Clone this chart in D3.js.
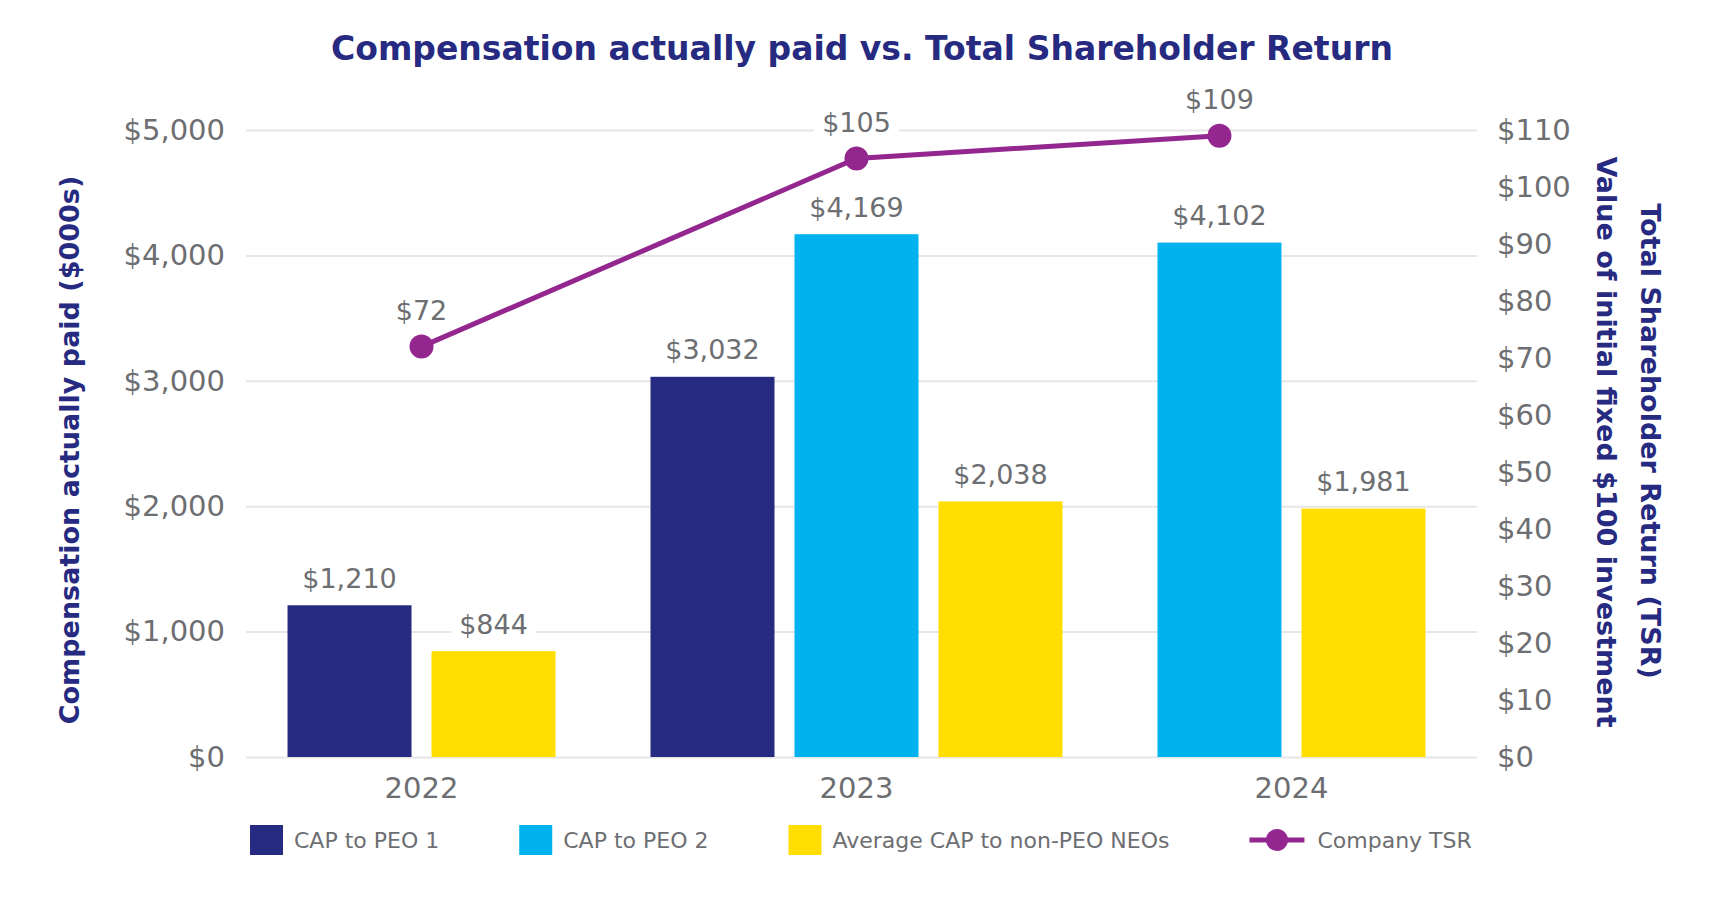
<!DOCTYPE html>
<html>
<head>
<meta charset="utf-8">
<script src="https://cdn.jsdelivr.net/npm/d3@7"></script>
<style>
  body { margin: 0; background: #fff; }
  text { font-family: "DejaVu Sans", Verdana, sans-serif; }
</style>
</head>
<body>
<div id="chart"></div>
<script>
// data
const years = ["2022", "2023", "2024"];
const capPeo1 = [1210, 3032, null];
const capPeo2 = [null, 4169, 4102];
const capNeo = [844, 2038, 1981];
const tsr = [72, 105, 109];
const leftTicks = [0, 1000, 2000, 3000, 4000, 5000];
const rightTicks = [0, 10, 20, 30, 40, 50, 60, 70, 80, 90, 100, 110];
const seriesNames = ["CAP to PEO 1", "CAP to PEO 2", "Average CAP to non-PEO NEOs"];
const seriesColors = ["#262a80", "#00b3ef", "#ffde00"];
const tsrName = "Company TSR";
const tsrColor = "#93278f";

const W = 1725, H = 900;
const plot = {left: 246, right: 1477, top: 130, bottom: 757};

const svg = d3.select("#chart").append("svg")
    .attr("width", W)
    .attr("height", H);

const y = d3.scaleLinear().domain([0, 5000]).range([plot.bottom, plot.top]);
const yR = d3.scaleLinear().domain([0, 110]).range([plot.bottom, plot.top]);
const x = d3.scalePoint().domain(years).range([plot.left - 5, plot.right - 5]).padding(0.415);

const fmt = d3.format(",");
const money = v => "$" + fmt(v);

// title
svg.append("text")
    .attr("x", 862).attr("y", 60)
    .attr("text-anchor", "middle")
    .attr("fill", "#262a80")
    .style("font-weight", "bold")
    .style("font-size", "33px")
    .text("Compensation actually paid vs. Total Shareholder Return");

// gridlines + left axis
const gLeft = svg.append("g").attr("transform", "translate(" + plot.left + ",0)")
    .call(d3.axisLeft(y).tickValues(leftTicks).tickFormat(money)
        .tickSize(-(plot.right - plot.left)).tickPadding(21));
gLeft.select(".domain").remove();
gLeft.selectAll(".tick line").attr("stroke", "#e6e6e6").attr("stroke-width", 2);
gLeft.selectAll(".tick text").attr("fill", "#6d6e71").style("font-size", "29px")
    .style("font-family", "'DejaVu Sans', Verdana, sans-serif");

// right axis (labels only)
const gRight = svg.append("g").attr("transform", "translate(" + plot.right + ",0)")
    .call(d3.axisRight(yR).tickValues(rightTicks).tickFormat(d => "$" + d)
        .tickSize(0).tickPadding(20));
gRight.select(".domain").remove();
gRight.selectAll(".tick text").attr("fill", "#6d6e71").style("font-size", "29px")
    .style("font-family", "'DejaVu Sans', Verdana, sans-serif");

// year labels
svg.selectAll(".year")
    .data(years)
    .enter()
    .append("text")
    .attr("class", "year")
    .attr("x", d => x(d))
    .attr("y", 798)
    .attr("text-anchor", "middle")
    .attr("fill", "#6d6e71")
    .style("font-size", "29px")
    .text(d => d);

// bars: each year only shows the series it has, centred on the year
const allSeries = [capPeo1, capPeo2, capNeo];
const bars = [];
const lineX = [];
years.forEach(function(yr, i) {
    const present = [0, 1, 2].filter(s => allSeries[s][i] != null);
    const step = 144, inner = 20;
    const w = present.length * step - inner;
    const inX = d3.scaleBand().domain(present)
        .range([x(yr) - w / 2, x(yr) + w / 2])
        .paddingInner(inner / step).paddingOuter(0);
    present.forEach(function(s) {
        bars.push({s: s, x: inX(s), w: inX.bandwidth(), v: allSeries[s][i]});
    });
    lineX.push(present.indexOf(1) >= 0 ? inX(1) + inX.bandwidth() / 2 : x(yr));
});

svg.selectAll(".bar")
    .data(bars)
    .enter()
    .append("rect")
    .attr("class", "bar")
    .attr("x", d => d.x)
    .attr("y", d => y(d.v))
    .attr("width", d => d.w)
    .attr("height", d => y(0) - y(d.v))
    .attr("fill", d => seriesColors[d.s]);

// label helper with white box behind
function label(px, py, txt) {
    const g = svg.append("g");
    const t = g.append("text")
        .attr("x", px).attr("y", py)
        .attr("text-anchor", "middle")
        .attr("dominant-baseline", "central")
        .attr("fill", "#6d6e71")
        .style("font-size", "27px")
        .text(txt);
    const b = t.node().getBBox();
    g.insert("rect", "text")
        .attr("x", b.x - 8).attr("y", b.y - 2)
        .attr("width", b.width + 16).attr("height", b.height + 4)
        .attr("fill", "#fff");
}

bars.forEach(d => label(d.x + d.w / 2, y(d.v) - 27, money(d.v)));

// TSR line
const line = d3.line().x((d, i) => lineX[i]).y(d => yR(d));
svg.append("path")
    .datum(tsr)
    .attr("d", line)
    .attr("fill", "none")
    .attr("stroke", tsrColor)
    .attr("stroke-width", 5);

svg.selectAll(".dot")
    .data(tsr)
    .enter()
    .append("circle")
    .attr("cx", (d, i) => lineX[i])
    .attr("cy", d => yR(d))
    .attr("r", 12)
    .attr("fill", tsrColor);

tsr.forEach((d, i) => label(lineX[i], yR(d) - 36, "$" + d));

// axis titles
svg.append("text")
    .attr("transform", "translate(69,450) rotate(-90)")
    .attr("text-anchor", "middle")
    .attr("dominant-baseline", "central")
    .attr("fill", "#262a80")
    .style("font-weight", "bold")
    .style("font-size", "27px")
    .text("Compensation actually paid ($000s)");

svg.append("text")
    .attr("transform", "translate(1650,441) rotate(90)")
    .attr("text-anchor", "middle")
    .attr("dominant-baseline", "central")
    .attr("fill", "#262a80")
    .style("font-weight", "bold")
    .style("font-size", "27px")
    .text("Total Shareholder Return (TSR)");

svg.append("text")
    .attr("transform", "translate(1606,442) rotate(90)")
    .attr("text-anchor", "middle")
    .attr("dominant-baseline", "central")
    .attr("fill", "#262a80")
    .style("font-weight", "bold")
    .style("font-size", "27px")
    .text("Value of initial fixed $100 investment");

// legend
const legend = svg.append("g").attr("transform", "translate(250,840)");
let lx = 0;
seriesNames.forEach(function(name, i) {
    legend.append("rect")
        .attr("x", lx).attr("y", -15)
        .attr("width", 33).attr("height", 30)
        .attr("fill", seriesColors[i]);
    const t = legend.append("text")
        .attr("x", lx + 44).attr("y", 0)
        .attr("dominant-baseline", "central")
        .attr("fill", "#6d6e71")
        .style("font-size", "22px")
        .text(name);
    lx += 44 + t.node().getComputedTextLength() + 80;
});
legend.append("line")
    .attr("x1", lx).attr("x2", lx + 55)
    .attr("stroke", tsrColor).attr("stroke-width", 5);
legend.append("circle")
    .attr("cx", lx + 27.5).attr("r", 11)
    .attr("fill", tsrColor);
legend.append("text")
    .attr("x", lx + 68).attr("y", 0)
    .attr("dominant-baseline", "central")
    .attr("fill", "#6d6e71")
    .style("font-size", "22px")
    .text(tsrName);
</script>
</body>
</html>
